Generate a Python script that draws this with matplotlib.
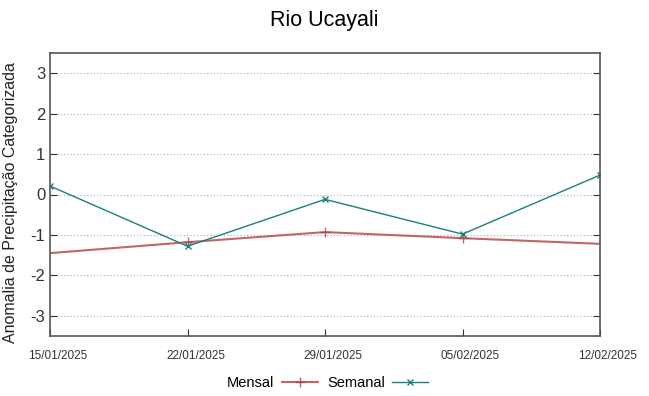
import matplotlib
matplotlib.use('Agg')
import matplotlib.pyplot as plt
import matplotlib.transforms as mtransforms
import pandas as pd

plt.rcParams['font.family'] = ['Liberation Sans', 'DejaVu Sans']
plt.rcParams['axes.unicode_minus'] = False

# Data
dates = ['15/01/2025', '22/01/2025', '29/01/2025', '05/02/2025', '12/02/2025']
mensal = [-1.45, -1.18, -0.93, -1.08, -1.22]
semanal = [0.21, -1.28, -0.12, -0.98, 0.48]

x = pd.to_datetime(dates, format='%d/%m/%Y')

fig = plt.figure(figsize=(6.49, 3.96), dpi=100)
ax = fig.add_axes([50 / 649, 60 / 396, 550 / 649, 283 / 396])

ax.plot(x, mensal, color='#b34040', alpha=0.8, lw=1.5, marker='+', ms=7,
        markevery=[1, 2, 3], label='Mensal')
ax.plot(x, semanal, color='#1a7f7f', lw=1.0, marker='x', ms=5, label='Semanal')

ax.set_xlim(x[0], x[-1])
ax.set_ylim(-3.5, 3.5)
ax.set_yticks([-3, -2, -1, 0, 1, 2, 3])
ax.set_xticks(x)
ax.set_xticklabels([])

# x tick labels drawn as text, shifted a bit right and down like the original
trans = mtransforms.blended_transform_factory(ax.transData, ax.transAxes) + \
    mtransforms.ScaledTranslation(0.08, -0.14, fig.dpi_scale_trans)
for xi, d in zip(x, dates):
    ax.text(xi, 0, d, transform=trans, ha='center', va='top', fontsize=8.5,
            color='#333333', clip_on=False)

ax.tick_params(axis='y', labelsize=12, direction='in', right=True, length=5, colors='#333333')
ax.tick_params(axis='x', direction='in', top=False, length=5, colors='#333333')
ax.yaxis.grid(True, linestyle=(0, (1, 2)), color='#aaaaaa', lw=0.8)
for s in ax.spines.values():
    s.set_color('#555555')
    s.set_linewidth(1.2)

ax.set_ylabel('Anomalia de Precipitação Categorizada', fontsize=11.5, color='#222222', labelpad=0)
ax.yaxis.set_label_coords(-0.058, 0.47)
fig.suptitle('Rio Ucayali', fontsize=15.5, y=0.975)

fig.legend(loc='lower center', ncol=2, frameon=False, markerfirst=False,
           handlelength=2.5, fontsize=10.5, bbox_to_anchor=(0.505, -0.018),
           columnspacing=0.6, handletextpad=0.5)

fig.savefig('out.png', dpi=100)
